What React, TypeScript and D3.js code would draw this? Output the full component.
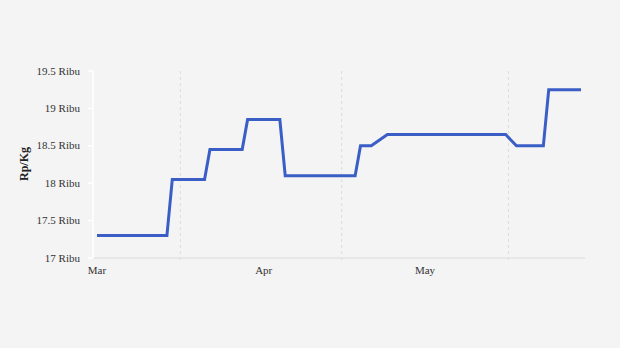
import React from "react";
import * as d3 from "d3";

const startDate = new Date(2023, 2, 1);
// daily prices (thousand Rp/Kg) from Mar 1
const prices: number[] = [
  17.3, 17.3, 17.3, 17.3, 17.3, 17.3, 17.3, 17.3, 17.3, 17.3, 17.3, 17.3, 17.3, 17.3,
  18.05, 18.05, 18.05, 18.05, 18.05, 18.05, 18.05,
  18.45, 18.45, 18.45, 18.45, 18.45, 18.45, 18.45,
  18.85, 18.85, 18.85, 18.85, 18.85, 18.85, 18.85,
  18.1, 18.1, 18.1, 18.1, 18.1, 18.1, 18.1, 18.1, 18.1, 18.1, 18.1, 18.1, 18.1, 18.1,
  18.5, 18.5, 18.5,
  18.55, 18.6,
  18.65, 18.65, 18.65, 18.65, 18.65, 18.65, 18.65, 18.65, 18.65, 18.65, 18.65, 18.65,
  18.65, 18.65, 18.65, 18.65, 18.65, 18.65, 18.65, 18.65, 18.65, 18.65, 18.65,
  18.575,
  18.5, 18.5, 18.5, 18.5, 18.5, 18.5,
  19.25, 19.25, 19.25, 19.25, 19.25, 19.25, 19.25,
];
const yTicks = [17, 17.5, 18, 18.5, 19, 19.5];
const monthLabels = ["Mar", "Apr", "May"];
const monthStarts = [new Date(2023, 2, 1), new Date(2023, 3, 1), new Date(2023, 4, 1)];
const gridDates = [new Date(2023, 2, 16, 12), new Date(2023, 3, 15, 12), new Date(2023, 4, 16, 12)];
const yLabel = "Rp/Kg";

const W = 620;
const H = 348;
const font = "'Liberation Serif', 'Times New Roman', serif";

export default function App() {
  const data = prices.map((v, i) => ({ date: d3.timeDay.offset(startDate, i), v }));
  const x = d3
    .scaleTime()
    .domain([startDate, data[data.length - 1].date])
    .range([97, 581]);
  const y = d3.scaleLinear().domain([17, 19.5]).range([258, 71]);
  const line = d3
    .line<{ date: Date; v: number }>()
    .x((d) => x(d.date))
    .y((d) => y(d.v));

  return (
    <div style={{ position: "fixed", left: 0, top: 0 }}>
      <style>{`body{margin:0;background:#f4f4f4}`}</style>
      <svg width={W} height={H} style={{ display: "block" }}>
        <rect width={W} height={H} fill="#f4f4f4" />
        {gridDates.map((d, i) => (
          <line
            key={i}
            x1={x(d)}
            x2={x(d)}
            y1={71}
            y2={262}
            stroke="#dcdcdc"
            strokeWidth={1}
            strokeDasharray="3,3"
          />
        ))}
        <line x1={93} x2={585} y1={258} y2={258} stroke="#e3e3e3" strokeWidth={1.5} />
        <line x1={93} x2={93} y1={71} y2={258} stroke="#ffffff" strokeWidth={1.5} />
        {yTicks.map((t) => (
          <g key={t}>
            <line x1={88} x2={93} y1={y(t)} y2={y(t)} stroke="#ffffff" strokeWidth={1.5} />
            <text
              x={80}
              y={y(t)}
              dy="0.33em"
              textAnchor="end"
              fontFamily={font}
              fontSize={11}
              fill="#333"
            >
              {`${t} Ribu`}
            </text>
          </g>
        ))}
        {monthLabels.map((m, i) => (
          <text
            key={m}
            x={x(monthStarts[i])}
            y={274}
            textAnchor="middle"
            fontFamily={font}
            fontSize={11}
            fill="#333"
          >
            {m}
          </text>
        ))}
        <text
          transform={`translate(27.5,164) rotate(-90)`}
          textAnchor="middle"
          fontFamily={font}
          fontSize={12}
          fontWeight="bold"
          fill="#222"
        >
          {yLabel}
        </text>
        <path
          d={line(data) || ""}
          fill="none"
          stroke="#3a5ec6"
          strokeWidth={3}
          strokeLinejoin="miter"
        />
      </svg>
    </div>
  );
}
